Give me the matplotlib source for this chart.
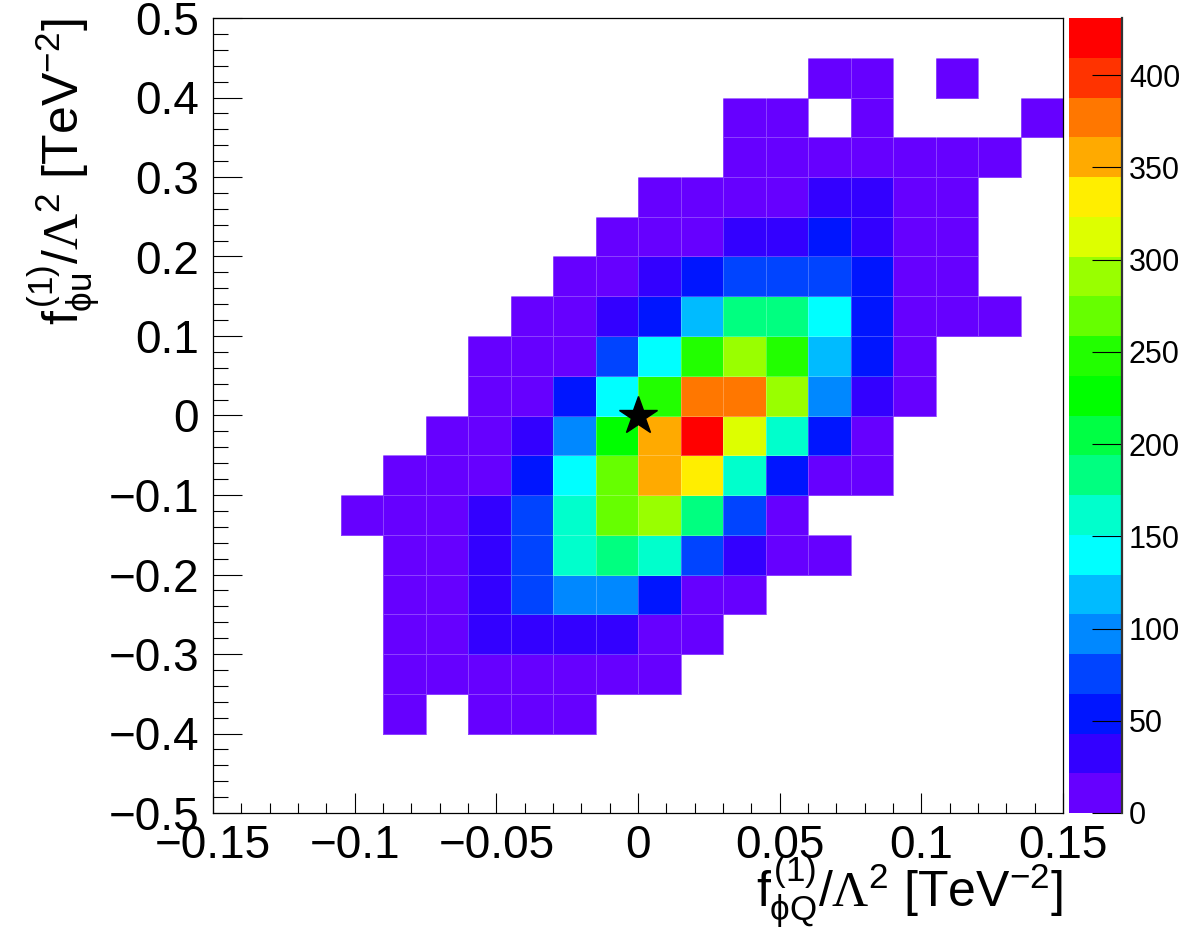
import numpy as np
import matplotlib
matplotlib.use("Agg")
import matplotlib.pyplot as plt
from matplotlib.colors import ListedColormap, BoundaryNorm
from matplotlib.ticker import MultipleLocator, FuncFormatter

plt.rcParams['font.family'] = ['Liberation Sans', 'DejaVu Sans']
plt.rcParams['mathtext.fontset'] = 'custom'
plt.rcParams['mathtext.rm'] = 'Liberation Serif'
plt.rcParams['mathtext.it'] = 'Liberation Sans'
plt.rcParams['mathtext.sf'] = 'Liberation Sans'

# binning of the 2D histogram
x_edges = np.linspace(-0.15, 0.15, 21)
y_edges = np.linspace(-0.5, 0.5, 21)

# bin contents, one row per y bin, from top (0.45..0.5) to bottom (-0.5..-0.45)
counts = [
    [0, 0, 0, 0, 0, 0, 0, 0, 0, 0, 0, 0, 0, 0, 0, 0, 0, 0, 0, 0],
    [0, 0, 0, 0, 0, 0, 0, 0, 0, 0, 0, 0, 0, 0, 5, 4, 0, 3, 0, 0],
    [0, 0, 0, 0, 0, 0, 0, 0, 0, 0, 0, 0, 6, 5, 0, 7, 0, 0, 0, 3],
    [0, 0, 0, 0, 0, 0, 0, 0, 0, 0, 0, 0, 9, 12, 14, 15, 13, 8, 5, 0],
    [0, 0, 0, 0, 0, 0, 0, 0, 0, 0, 6, 12, 18, 20, 30, 28, 17, 9, 0, 0],
    [0, 0, 0, 0, 0, 0, 0, 0, 0, 5, 13, 20, 33, 36, 47, 30, 15, 7, 0, 0],
    [0, 0, 0, 0, 0, 0, 0, 0, 8, 17, 35, 55, 74, 78, 72, 50, 16, 6, 0, 0],
    [0, 0, 0, 0, 0, 0, 0, 7, 18, 38, 60, 120, 182, 180, 140, 55, 19, 11, 4, 0],
    [0, 0, 0, 0, 0, 0, 6, 15, 20, 80, 142, 246, 290, 248, 118, 52, 12, 0, 0, 0],
    [0, 0, 0, 0, 0, 0, 8, 19, 50, 138, 245, 378, 376, 288, 100, 38, 14, 0, 0, 0],
    [0, 0, 0, 0, 0, 10, 18, 33, 95, 228, 356, 431, 312, 160, 54, 13, 0, 0, 0, 0],
    [0, 0, 0, 0, 9, 16, 20, 58, 140, 270, 352, 333, 158, 50, 15, 7, 0, 0, 0, 0],
    [0, 0, 0, 6, 14, 19, 37, 78, 165, 268, 290, 185, 72, 17, 0, 0, 0, 0, 0, 0],
    [0, 0, 0, 0, 13, 20, 40, 76, 160, 180, 155, 70, 30, 14, 6, 0, 0, 0, 0, 0],
    [0, 0, 0, 0, 12, 18, 38, 72, 100, 95, 50, 17, 9, 0, 0, 0, 0, 0, 0, 0],
    [0, 0, 0, 0, 11, 17, 36, 40, 39, 33, 18, 8, 0, 0, 0, 0, 0, 0, 0, 0],
    [0, 0, 0, 0, 8, 14, 18, 19, 16, 12, 5, 0, 0, 0, 0, 0, 0, 0, 0, 0],
    [0, 0, 0, 0, 4, 0, 6, 8, 5, 0, 0, 0, 0, 0, 0, 0, 0, 0, 0, 0],
    [0, 0, 0, 0, 0, 0, 0, 0, 0, 0, 0, 0, 0, 0, 0, 0, 0, 0, 0, 0],
    [0, 0, 0, 0, 0, 0, 0, 0, 0, 0, 0, 0, 0, 0, 0, 0, 0, 0, 0, 0],
]

# ROOT-like rainbow palette, 20 contour levels
palette = ['#6600ff', '#3300ff', '#0015ff', '#0044ff', '#0088ff', '#00bbff',
           '#00ffff', '#00ffcc', '#00ff80', '#00ff44', '#00ff00', '#22ff00',
           '#66ff00', '#99ff00', '#ddff00', '#ffee00', '#ffaa00', '#ff7700',
           '#ff3300', '#ff0000']

z = np.array(counts[::-1], dtype=float)
z = np.ma.masked_where(z <= 0, z)

cmap = ListedColormap(palette)
levels = np.linspace(0, z.max(), len(palette) + 1)
norm = BoundaryNorm(levels, cmap.N)

fig = plt.figure(figsize=(11.82, 9.36), dpi=100)
ax = fig.add_axes([213/1182, 123/936, 850/1182, 795/936])
cax = fig.add_axes([1069/1182, 123/936, 53/1182, 795/936])

mesh = ax.pcolormesh(x_edges, y_edges, z, cmap=cmap, norm=norm,
                     edgecolors=(1, 1, 1, 0.25), linewidth=0.6)
ax.plot(0, 0, marker='*', color='k', ms=29, zorder=5)

ax.set_xlim(-0.15, 0.15)
ax.set_ylim(-0.5, 0.5)


def root_fmt(v, pos):
    s = f'{v:.2f}'.rstrip('0').rstrip('.')
    if s == '-0':
        s = '0'
    return s.replace('-', '\u2212')


ax.xaxis.set_major_locator(MultipleLocator(0.05))
ax.xaxis.set_minor_locator(MultipleLocator(0.01))
ax.yaxis.set_major_locator(MultipleLocator(0.1))
ax.yaxis.set_minor_locator(MultipleLocator(0.02))
ax.xaxis.set_major_formatter(FuncFormatter(root_fmt))
ax.yaxis.set_major_formatter(FuncFormatter(root_fmt))

ax.tick_params(axis='both', which='both', direction='in', top=False, right=False,
               width=0.8, labelsize=33)
ax.tick_params(axis='x', which='major', length=14.5, pad=8)
ax.tick_params(axis='x', which='minor', length=7.2)
ax.tick_params(axis='y', which='major', length=21, pad=10)
ax.tick_params(axis='y', which='minor', length=10.5)
for sp in ax.spines.values():
    sp.set_linewidth(0.9)

ax.set_xlabel(r'$f^{\mathsf{(1)}}_{\phi\mathsf{Q}}\mathsf{/}\Lambda^{\mathsf{2}}$ [TeV$^{\mathsf{-2}}$]',
              fontsize=36, loc='right')
ax.xaxis.set_label_coords(1.0, -0.052)
ax.set_ylabel(r'$f^{\mathsf{(1)}}_{\phi\mathsf{u}}\mathsf{/}\Lambda^{\mathsf{2}}$ [TeV$^{\mathsf{-2}}$]',
              fontsize=36, loc='top')
ax.yaxis.set_label_coords(-0.129, 1.0)

cbar = fig.colorbar(mesh, cax=cax, ticks=np.arange(0, 401, 50))
cbar.outline.set_visible(False)
cax.tick_params(direction='in', length=21.6, width=0.8, labelsize=22, pad=5)
cax.minorticks_off()
cax.plot([1, 1], [0, 1], transform=cax.transAxes, color='#333333', lw=1.6,
         clip_on=False)

fig.savefig('out.png', dpi=100)
